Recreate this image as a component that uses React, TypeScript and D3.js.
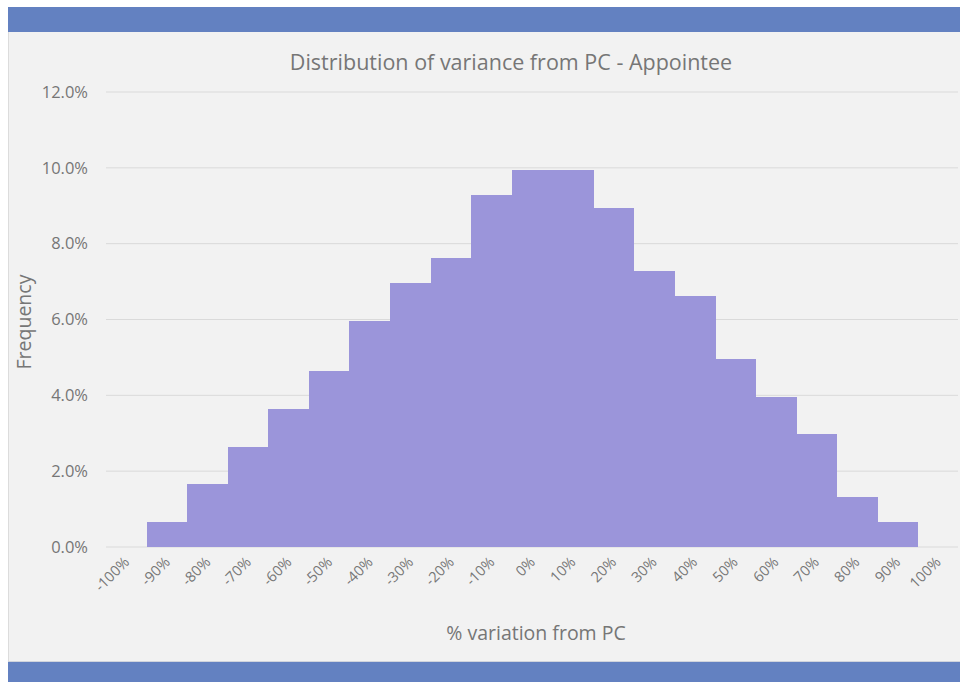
import React from "react";
import * as d3 from "d3";

const categories = ["-100%", "-90%", "-80%", "-70%", "-60%", "-50%", "-40%", "-30%", "-20%", "-10%", "0%", "10%", "20%", "30%", "40%", "50%", "60%", "70%", "80%", "90%", "100%"];
const frequency = [0, 0.0066, 0.0165, 0.0265, 0.0365, 0.0463, 0.0595, 0.0695, 0.0762, 0.0928, 0.0995, 0.0995, 0.0895, 0.0729, 0.0663, 0.0496, 0.0396, 0.0298, 0.0132, 0.0066, 0];
const yTicks = [0, 0.02, 0.04, 0.06, 0.08, 0.1, 0.12];

const W = 960;
const H = 682;
const FONT = "'Open Sans', 'DejaVu Sans', sans-serif";
const TEXT = "#767676";

export default function App() {
  const left = 106, right = 958, top = 92, bottom = 547;
  const x = d3.scaleBand<string>().domain(categories).range([left, right]).padding(0);
  const y = d3.scaleLinear().domain([0, 0.12]).range([bottom, top]);
  const fmt = d3.format(".1%");

  return (
    <svg width={W} height={H} style={{ position: "absolute", left: 0, top: 0 }} fontFamily={FONT}>
      <rect x={0} y={0} width={W} height={H} fill="#ffffff" />
      <rect x={8} y={32} width={W - 8} height={630} fill="#f2f2f2" />
      <line x1={8.5} y1={32} x2={8.5} y2={662} stroke="#dcdcdc" />
      <rect x={8} y={7} width={W - 8} height={25} fill="#6381c1" />
      <rect x={8} y={662} width={W - 8} height={20} fill="#6381c1" />
      <line x1={8} y1={661.5} x2={W} y2={661.5} stroke="#d0d4dc" />

      <text x={511} y={70} textAnchor="middle" fontSize={21.5} fill={TEXT}>
        Distribution of variance from PC - Appointee
      </text>

      {yTicks.map((t) => (
        <g key={t}>
          <line x1={left} x2={right} y1={y(t)} y2={y(t)} stroke="#dadada" strokeWidth={1} />
          <text x={88} y={y(t)} dy="0.35em" textAnchor="end" fontSize={16.5} fill={TEXT}>
            {fmt(t)}
          </text>
        </g>
      ))}

      {categories.map((c, i) =>
        frequency[i] > 0 ? (
          <rect
            key={c}
            x={Math.round(x(c) as number)}
            y={y(frequency[i])}
            width={Math.round((x(c) as number) + x.bandwidth()) - Math.round(x(c) as number) + 1}
            height={bottom - y(frequency[i])}
            fill="#9b95da"
            shapeRendering="crispEdges"
          />
        ) : null
      )}

      {categories.map((c) => {
        const cx = (x(c) as number) + x.bandwidth() / 2 + 4;
        return (
          <text
            key={c}
            transform={`translate(${cx},${563}) rotate(-45)`}
            textAnchor="end"
            fontSize={14.5}
            fill={TEXT}
          >
            {c}
          </text>
        );
      })}

      <text x={536} y={640} textAnchor="middle" fontSize={19.5} fill={TEXT}>
        % variation from PC
      </text>
      <text transform={`translate(31,322) rotate(-90)`} textAnchor="middle" fontSize={19.5} fill={TEXT}>
        Frequency
      </text>
    </svg>
  );
}
